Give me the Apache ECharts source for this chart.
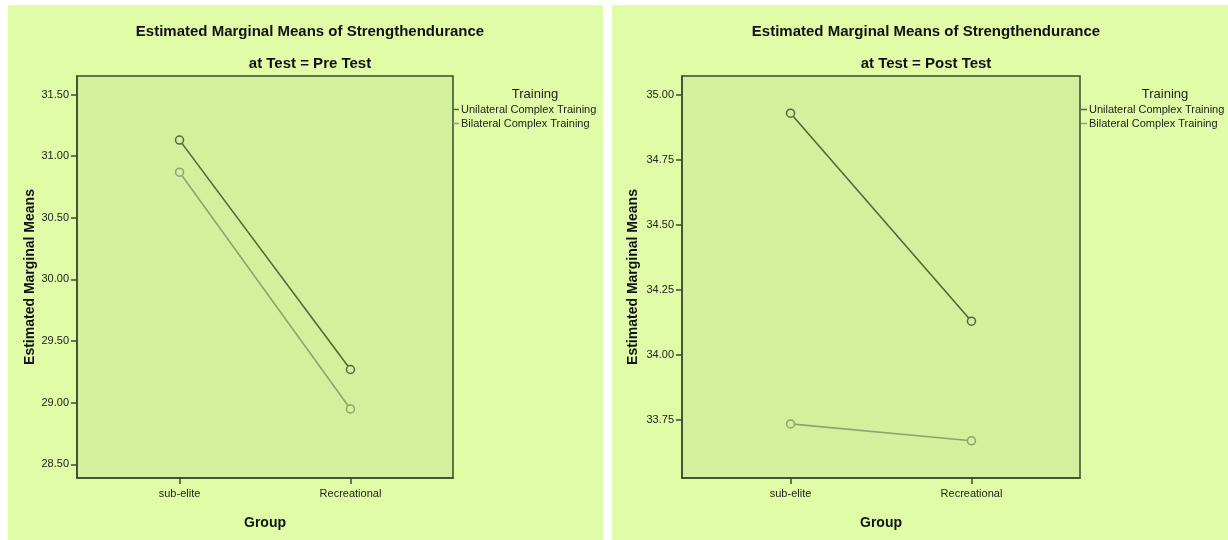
<!DOCTYPE html>
<html>
<head>
<meta charset="utf-8">
<script src="https://cdn.jsdelivr.net/npm/echarts@6/dist/echarts.min.js"></script>
<style>
html, body { margin: 0; padding: 0; background: #fff; }
#chart { width: 1228px; height: 540px; }
</style>
</head>
<body>
<div id="chart"></div>
<script>
// data
var groups = ['sub-elite', 'Recreational'];
var trainings = ['Unilateral Complex Training', 'Bilateral Complex Training'];
var preUni = [31.13, 29.27];
var preBi = [30.87, 28.95];
var postUni = [34.93, 34.13];
var postBi = [33.735, 33.67];
var preTicks = [28.5, 29.0, 29.5, 30.0, 30.5, 31.0, 31.5];
var postTicks = [33.75, 34.0, 34.25, 34.5, 34.75, 35.0];

var font = 'Liberation Sans, Arial, sans-serif';
var axisColor = '#3b4a2c';
var plotBg = '#d3f19c';
var uniColor = '#51693a';
var biColor = '#8ba56c';

function pts(vals) {
    return vals.map(function (v, i) { return [i, v]; });
}

function xAxisFor(idx) {
    return {
        gridIndex: idx,
        type: 'value',
        min: -0.6,
        max: 1.6,
        name: 'Group',
        nameLocation: 'middle',
        nameGap: 38,
        nameTextStyle: { fontFamily: font, fontWeight: 'bold', fontSize: 14, color: '#111' },
        splitLine: { show: false },
        axisLine: { onZero: false, lineStyle: { color: axisColor, width: 1.5 } },
        axisTick: { customValues: [0, 1], length: 6, lineStyle: { color: axisColor, width: 1.5 } },
        axisLabel: {
            customValues: [0, 1],
            margin: 10,
            fontFamily: font, fontSize: 11, color: '#222',
            formatter: function (v) { return groups[Math.round(v)]; }
        }
    };
}

function yAxisFor(idx, min, max, ticks, gap) {
    return {
        gridIndex: idx,
        type: 'value',
        min: min,
        max: max,
        name: 'Estimated Marginal Means',
        nameLocation: 'middle',
        nameGap: gap,
        nameTextStyle: { fontFamily: font, fontWeight: 'bold', fontSize: 14, color: '#111' },
        splitLine: { show: false },
        axisLine: { show: true, onZero: false, lineStyle: { color: axisColor, width: 1.5 } },
        axisTick: { show: true, customValues: ticks, length: 6, lineStyle: { color: axisColor, width: 1.5 } },
        axisLabel: {
            customValues: ticks,
            margin: 8,
            fontFamily: font, fontSize: 11, color: '#222',
            formatter: function (v) { return v.toFixed(2); }
        }
    };
}

function lineSeries(name, idx, vals, color) {
    return {
        name: name,
        type: 'line',
        xAxisIndex: idx,
        yAxisIndex: idx,
        data: pts(vals),
        symbol: 'circle',
        symbolSize: 8,
        lineStyle: { color: color, width: 1.6 },
        itemStyle: { color: plotBg, borderColor: color, borderWidth: 1.5 },
        animation: false
    };
}

function legendFor(left) {
    return {
        data: [
            { name: trainings[0], itemStyle: { color: uniColor, borderWidth: 0 } },
            { name: trainings[1], itemStyle: { color: biColor, borderWidth: 0 } }
        ],
        left: left, top: 104, orient: 'vertical', icon: 'rect',
        itemWidth: 6, itemHeight: 1.5, itemGap: 3, padding: 0,
        textStyle: { fontFamily: font, fontSize: 11, color: '#222', padding: [0, 0, 0, -3] }
    };
}

var chart = echarts.init(document.getElementById('chart'));
var option = {
    backgroundColor: '#ffffff',
    graphic: [
        { type: 'rect', shape: { x: 8, y: 5, width: 595, height: 535 }, style: { fill: '#e0fca6' }, z: -10 },
        { type: 'rect', shape: { x: 612, y: 5, width: 616, height: 535 }, style: { fill: '#e0fca6' }, z: -10 }
    ],
    title: [
        { text: 'Estimated Marginal Means of Strengthendurance', left: 305, top: 19, textAlign: 'center',
          textStyle: { fontFamily: font, fontWeight: 'bold', fontSize: 15, color: '#111' } },
        { text: 'at Test = Pre Test', left: 305, top: 51, textAlign: 'center',
          textStyle: { fontFamily: font, fontWeight: 'bold', fontSize: 15, color: '#111' } },
        { text: 'Training', left: 530, top: 83, textAlign: 'center',
          textStyle: { fontFamily: font, fontWeight: 'normal', fontSize: 13, color: '#222' } },
        { text: 'Estimated Marginal Means of Strengthendurance', left: 921, top: 19, textAlign: 'center',
          textStyle: { fontFamily: font, fontWeight: 'bold', fontSize: 15, color: '#111' } },
        { text: 'at Test = Post Test', left: 921, top: 51, textAlign: 'center',
          textStyle: { fontFamily: font, fontWeight: 'bold', fontSize: 15, color: '#111' } },
        { text: 'Training', left: 1160, top: 83, textAlign: 'center',
          textStyle: { fontFamily: font, fontWeight: 'normal', fontSize: 13, color: '#222' } }
    ],
    legend: [legendFor(453), legendFor(1081)],
    grid: [
        { left: 77, top: 76, width: 376, height: 402, show: true, backgroundColor: plotBg,
          borderColor: axisColor, borderWidth: 1.5 },
        { left: 682, top: 76, width: 398, height: 402, show: true, backgroundColor: plotBg,
          borderColor: axisColor, borderWidth: 1.5 }
    ],
    xAxis: [xAxisFor(0), xAxisFor(1)],
    yAxis: [yAxisFor(0, 28.39, 31.65, preTicks, 38), yAxisFor(1, 33.527, 35.073, postTicks, 42)],
    series: [
        lineSeries(trainings[0], 0, preUni, uniColor),
        lineSeries(trainings[1], 0, preBi, biColor),
        lineSeries(trainings[0], 1, postUni, uniColor),
        lineSeries(trainings[1], 1, postBi, biColor)
    ]
};
chart.setOption(option);
window.addEventListener('resize', function () {
    chart.resize();
});
</script>
</body>
</html>
